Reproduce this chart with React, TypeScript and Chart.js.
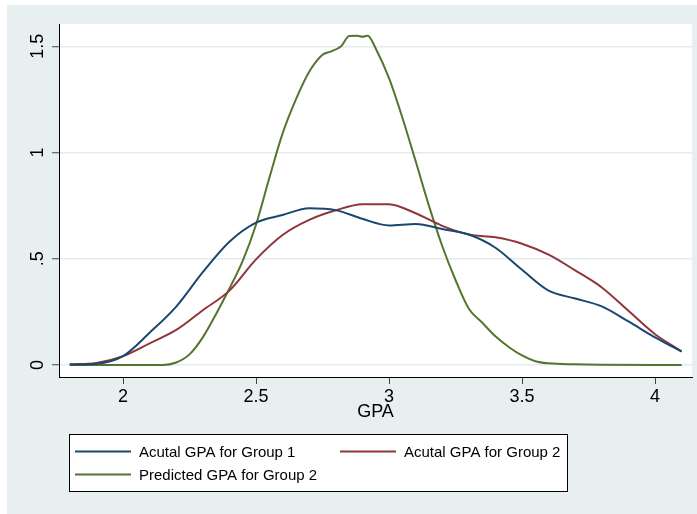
import React, { useEffect, useRef } from 'react';
import { Chart, registerables } from 'chart.js';

Chart.register(...registerables);

// ---- data ----
const gpaGrid = [1.8, 1.9, 2.0, 2.1, 2.2, 2.3, 2.4, 2.5, 2.6, 2.7, 2.8, 2.9, 3.0, 3.1, 3.2, 3.3, 3.4, 3.5, 3.6, 3.7, 3.8, 3.9, 4.0, 4.1];
const group1Actual = [0.002, 0.006, 0.042, 0.152, 0.275, 0.437, 0.58, 0.67, 0.706, 0.738, 0.729, 0.688, 0.657, 0.664, 0.64, 0.614, 0.552, 0.448, 0.35, 0.313, 0.276, 0.205, 0.13, 0.063];
const group2Actual = [0.003, 0.01, 0.042, 0.102, 0.165, 0.258, 0.35, 0.497, 0.612, 0.683, 0.728, 0.757, 0.757, 0.714, 0.655, 0.614, 0.601, 0.571, 0.519, 0.445, 0.365, 0.255, 0.145, 0.065];

const predictedGrid = [1.8, 2.0, 2.15, 2.2, 2.25, 2.3, 2.35, 2.4, 2.45, 2.5, 2.55, 2.6, 2.65, 2.7, 2.75, 2.78, 2.82, 2.85, 2.88, 2.9, 2.92, 2.95, 3.0, 3.05, 3.1, 3.15, 3.2, 3.25, 3.3, 3.35, 3.4, 3.45, 3.5, 3.55, 3.6, 3.7, 3.8, 4.0, 4.1];
const group2Predicted = [0, 0, 0, 0.012, 0.05, 0.13, 0.24, 0.36, 0.49, 0.66, 0.88, 1.09, 1.25, 1.38, 1.46, 1.475, 1.5, 1.548, 1.55, 1.545, 1.55, 1.49, 1.35, 1.165, 0.96, 0.75, 0.56, 0.4, 0.265, 0.2, 0.135, 0.085, 0.045, 0.018, 0.008, 0.003, 0.001, 0, 0];

const seriesLabels = ['Acutal GPA for Group 1', 'Acutal GPA for Group 2', 'Predicted GPA for Group 2'];
const xTickValues = [2, 2.5, 3, 3.5, 4];
const xTickLabels = ['2', '2.5', '3', '3.5', '4'];
const yTickValues = [0, 0.5, 1, 1.5];
const yTickLabels = ['0', '.5', '1', '1.5'];
const xTitle = 'GPA';

// ---- styles ----
const COLORS = ['#1a476f', '#90353b', '#55752f'];
const PANEL = '#e8eff1';
const GRID = '#e3ebee';
const FONT = '"Liberation Sans", Arial, Helvetica, sans-serif';

const toPoints = (xs: number[], ys: number[]) => xs.map((x, i) => ({ x, y: ys[i] }));

const backgroundPlugin = {
  id: 'stataBackground',
  beforeDraw(chart: any) {
    const { ctx, width, height, chartArea } = chart;
    ctx.save();
    ctx.fillStyle = '#ffffff';
    ctx.fillRect(0, 0, width, height);
    ctx.fillStyle = PANEL;
    ctx.fillRect(7, 5, width - 7, height - 5);
    ctx.fillStyle = '#ffffff';
    ctx.fillRect(chartArea.left, chartArea.top, chartArea.right - chartArea.left, chartArea.bottom - chartArea.top);
    ctx.restore();
  },
};

const yLabelPlugin = {
  id: 'rotatedYLabels',
  afterDraw(chart: any) {
    const { ctx } = chart;
    const scale = chart.scales.y;
    ctx.save();
    ctx.fillStyle = '#000';
    ctx.font = `18px ${FONT}`;
    ctx.textAlign = 'center';
    ctx.textBaseline = 'middle';
    scale.ticks.forEach((t: any) => {
      const py = scale.getPixelForValue(t.value);
      ctx.save();
      ctx.translate(38, py);
      ctx.rotate(-Math.PI / 2);
      ctx.fillText(String(t.label), 0, 0);
      ctx.restore();
    });
    ctx.restore();
  },
};

const legendPlugin = {
  id: 'boxLegend',
  afterDraw(chart: any) {
    const { ctx } = chart;
    const ds = chart.data.datasets;
    const bx = 69.5, by = 434.5, bw = 498, bh = 57;
    ctx.save();
    ctx.fillStyle = '#fff';
    ctx.fillRect(bx, by, bw, bh);
    ctx.strokeStyle = '#000';
    ctx.lineWidth = 1;
    ctx.strokeRect(bx, by, bw, bh);
    const slots = [
      { lx: 75, ly: 451.5 },
      { lx: 340, ly: 451.5 },
      { lx: 75, ly: 474.5 },
    ];
    ctx.font = `15px ${FONT}`;
    ctx.textBaseline = 'middle';
    ctx.textAlign = 'left';
    ds.forEach((d: any, i: number) => {
      const s = slots[i];
      ctx.strokeStyle = d.borderColor;
      ctx.lineWidth = 2;
      ctx.beginPath();
      ctx.moveTo(s.lx, s.ly);
      ctx.lineTo(s.lx + 56, s.ly);
      ctx.stroke();
      ctx.fillStyle = '#000';
      ctx.fillText(d.label, s.lx + 64, s.ly + 1);
    });
    ctx.restore();
  },
};

export default function App() {
  const ref = useRef<HTMLCanvasElement | null>(null);

  useEffect(() => {
    document.body.style.margin = '0';
    const canvas = ref.current;
    if (!canvas) return;
    const series = [
      toPoints(gpaGrid, group1Actual),
      toPoints(gpaGrid, group2Actual),
      toPoints(predictedGrid, group2Predicted),
    ];
    const chart = new Chart(canvas, {
      type: 'line',
      data: {
        datasets: series.map((data, i) => ({
          label: seriesLabels[i],
          data,
          borderColor: COLORS[i],
          backgroundColor: COLORS[i],
          borderWidth: 2,
          pointRadius: 0,
          fill: false,
          cubicInterpolationMode: 'monotone' as const,
        })),
      },
      options: {
        responsive: false,
        animation: false,
        devicePixelRatio: 1,
        layout: { padding: { top: 24, right: 5, left: 0, bottom: 89 } },
        plugins: {
          legend: { display: false },
          tooltip: { enabled: false },
        },
        scales: {
          x: {
            type: 'linear',
            min: 1.7594,
            max: 4.139,
            afterBuildTicks: (s: any) => {
              s.ticks = xTickValues.map((v) => ({ value: v }));
            },
            afterFit: (s: any) => {
              s.height = 48;
            },
            ticks: {
              color: '#000',
              font: { family: FONT, size: 18 },
              padding: 2,
              maxRotation: 0,
              minRotation: 0,
              callback: (v: any) => {
                const i = xTickValues.indexOf(Number(v));
                return i >= 0 ? xTickLabels[i] : '';
              },
            },
            grid: {
              drawOnChartArea: false,
              drawTicks: true,
              tickLength: 7,
              tickColor: '#444',
              tickWidth: 1,
            },
            border: { display: true, color: '#000', width: 1 },
            title: {
              display: true,
              text: xTitle,
              color: '#000',
              font: { family: FONT, size: 18 },
              padding: { top: 0, bottom: 2 },
            },
          },
          y: {
            type: 'linear',
            min: -0.0565,
            max: 1.605,
            afterBuildTicks: (s: any) => {
              s.ticks = yTickValues.map((v) => ({ value: v }));
            },
            afterFit: (s: any) => {
              s.width = 59;
            },
            ticks: {
              display: false,
              callback: (v: any) => {
                const i = yTickValues.indexOf(Number(v));
                return i >= 0 ? yTickLabels[i] : '';
              },
            },
            grid: {
              color: GRID,
              lineWidth: 1.5,
              drawTicks: true,
              tickLength: 7,
              tickColor: '#444',
              tickWidth: 1,
            },
            border: { display: true, color: '#000', width: 1 },
          },
        },
      },
      plugins: [backgroundPlugin, yLabelPlugin, legendPlugin],
    });
    return () => chart.destroy();
  }, []);

  return <canvas ref={ref} width={697} height={514} style={{ display: 'block', width: 697, height: 514 }} />;
}
